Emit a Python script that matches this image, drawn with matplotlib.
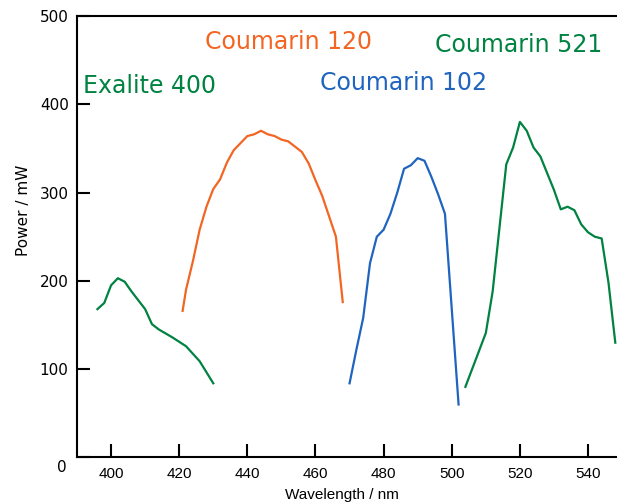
import matplotlib
matplotlib.use('Agg')
import matplotlib.pyplot as plt

# данные
exalite_x = [396, 398, 400, 402, 404, 406, 410, 412, 414, 418, 422, 426, 430]
exalite_y = [168, 175, 195, 203, 199, 188, 168, 151, 145, 136, 126, 109, 84]

c120_x = [421, 422, 424, 426, 428, 430, 432, 434, 436, 438, 440, 442, 444,
          446, 448, 450, 452, 454, 456, 458, 460, 462, 464, 466, 468]
c120_y = [166, 190, 222, 258, 284, 304, 315, 334, 348, 356, 364, 366, 370,
          366, 364, 360, 358, 352, 346, 333, 314, 296, 273, 250, 176]

c102_x = [470, 472, 474, 476, 478, 480, 482, 484, 486, 488, 490, 492, 494, 496, 498, 502]
c102_y = [84, 122, 158, 220, 250, 258, 276, 300, 327, 331, 339, 336, 318, 298, 276, 60]

c521_x = [504, 510, 512, 516, 518, 520, 522, 524, 526, 528, 530, 532, 534,
          536, 538, 540, 542, 544, 546, 548]
c521_y = [80, 141, 188, 332, 351, 380, 370, 351, 341, 322, 303, 281, 284,
          280, 264, 255, 250, 248, 198, 130]

xticks = [400, 420, 440, 460, 480, 500, 520, 540]
yticks = [0, 100, 200, 300, 400, 500]

green = '#008241'
orange = '#F26522'
blue = '#1F64BE'

fig = plt.figure(figsize=(6.17, 5.04), dpi=100)
ax = fig.add_axes([0.1248, 0.0923, 0.8752, 0.8760])

ax.plot(exalite_x, exalite_y, color=green, lw=1.6)
ax.plot(c120_x, c120_y, color=orange, lw=1.6)
ax.plot(c102_x, c102_y, color=blue, lw=1.6)
ax.plot(c521_x, c521_y, color=green, lw=1.6)

ax.text(391.8, 421, 'Exalite 400', color=green, fontsize=17, va='center')
ax.text(427.5, 471, 'Coumarin 120', color=orange, fontsize=17, va='center')
ax.text(461.3, 424, 'Coumarin 102', color=blue, fontsize=17, va='center')
ax.text(495.0, 467, 'Coumarin 521', color=green, fontsize=17, va='center')

ax.set_xlim(390, 548.5)
ax.set_ylim(0, 500)
ax.set_xticks(xticks)
ax.set_yticks(yticks)
ax.set_xticklabels([str(t) for t in xticks], family='Liberation Sans', fontsize=11)
# "0" рисуется отдельно, ниже остальных подписей
ax.set_yticklabels(['' if t == 0 else str(t) for t in yticks], fontsize=11)
ax.text(-0.028, -0.022, str(yticks[0]), transform=ax.transAxes,
        ha='center', va='center', fontsize=11)

ax.tick_params(direction='in', length=9.5, width=1.5, pad=6)
ax.tick_params(axis='x', pad=7)
for s in ['left', 'bottom', 'top']:
    ax.spines[s].set_linewidth(1.5)
ax.spines['right'].set_visible(False)

ax.set_xlabel('Wavelength / nm', family='Liberation Sans', fontsize=11)
ax.xaxis.set_label_coords(0.49, -0.068)
ax.set_ylabel('Power / mW', fontsize=11)
ax.yaxis.set_label_coords(-0.085, 0.56)

fig.savefig('out.png', dpi=100)
